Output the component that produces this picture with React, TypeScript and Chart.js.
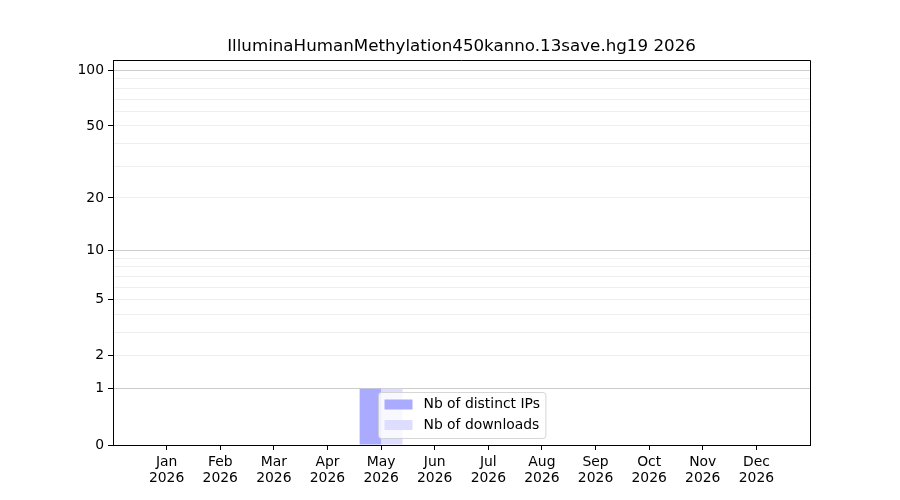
import React, { useEffect, useRef } from "react";
import { Chart, registerables } from "chart.js";

Chart.register(...registerables);

const TITLE = "IlluminaHumanMethylation450kanno.13save.hg19 2026";
const MONTHS = ["Jan", "Feb", "Mar", "Apr", "May", "Jun", "Jul", "Aug", "Sep", "Oct", "Nov", "Dec"];
const YEAR = "2026";
const DISTINCT_IPS = [0, 0, 0, 0, 1, 0, 0, 0, 0, 0, 0, 0];
const DOWNLOADS = [0, 0, 0, 0, 1, 0, 0, 0, 0, 0, 0, 0];
const Y_MAJOR_TICKS = [0, 1, 2, 5, 10, 20, 50, 100];
const Y_MINOR_GRID = [3, 4, 6, 7, 8, 9, 30, 40, 60, 70, 80, 90];
const Y_STRONG_GRID = [1, 10, 100];
const Y_MAX = 114;

const f = (v: number) => Math.log10(1 + v);
const inv = (t: number) => Math.pow(10, t) - 1;
const near = (a: number, b: number) => Math.abs(a - b) < 1e-6;
const FONT = "'DejaVu Sans', sans-serif";

const frameAndTitle = {
  id: "frameAndTitle",
  afterDraw(chart: any) {
    const { ctx, chartArea } = chart;
    ctx.save();
    ctx.strokeStyle = "#000";
    ctx.lineWidth = 1;
    ctx.beginPath();
    ctx.moveTo(chartArea.left, chartArea.top + 0.5);
    ctx.lineTo(chartArea.right + 0.5, chartArea.top + 0.5);
    ctx.lineTo(chartArea.right + 0.5, chartArea.bottom);
    ctx.stroke();
    ctx.fillStyle = "#000";
    ctx.font = `16.7px ${FONT}`;
    ctx.textAlign = "center";
    ctx.textBaseline = "middle";
    ctx.fillText(TITLE, (chartArea.left + chartArea.right) / 2, 46.5);
    ctx.restore();
  },
};

const innerLegend = {
  id: "innerLegend",
  afterDatasetsDraw(chart: any) {
    const { ctx } = chart;
    const ds = chart.data.datasets;
    ctx.save();
    ctx.font = `13.9px ${FONT}`;
    const textW = Math.max(...ds.map((d: any) => ctx.measureText(d.label).width));
    const x0 = 378.5;
    const y0 = 392.5;
    const w = 6 + 28 + 11 + textW + 6;
    const h = 46;
    const r = 3;
    ctx.beginPath();
    ctx.moveTo(x0 + r, y0);
    ctx.lineTo(x0 + w - r, y0);
    ctx.quadraticCurveTo(x0 + w, y0, x0 + w, y0 + r);
    ctx.lineTo(x0 + w, y0 + h - r);
    ctx.quadraticCurveTo(x0 + w, y0 + h, x0 + w - r, y0 + h);
    ctx.lineTo(x0 + r, y0 + h);
    ctx.quadraticCurveTo(x0, y0 + h, x0, y0 + h - r);
    ctx.lineTo(x0, y0 + r);
    ctx.quadraticCurveTo(x0, y0, x0 + r, y0);
    ctx.closePath();
    ctx.fillStyle = "rgba(255,255,255,0.8)";
    ctx.fill();
    ctx.strokeStyle = "rgba(204,204,204,0.8)";
    ctx.lineWidth = 1;
    ctx.stroke();
    ds.forEach((d: any, i: number) => {
      const cy = y0 + 12 + i * 20.5;
      ctx.fillStyle = d.backgroundColor;
      ctx.fillRect(x0 + 6, cy - 5, 28, 10);
      ctx.fillStyle = "#000";
      ctx.textAlign = "left";
      ctx.textBaseline = "middle";
      ctx.fillText(d.label, x0 + 45, cy);
    });
    ctx.restore();
  },
};

export default function App() {
  const ref = useRef<HTMLCanvasElement>(null);

  useEffect(() => {
    if (!ref.current) return;
    const chart = new Chart(ref.current, {
      type: "bar",
      data: {
        datasets: [
          {
            label: "Nb of distinct IPs",
            data: DISTINCT_IPS.map((v, i) => ({ x: i + 1, y: f(v) })),
            backgroundColor: "#aaaaff",
            borderWidth: 0,
            categoryPercentage: 0.8,
            barPercentage: 1.0,
          },
          {
            label: "Nb of downloads",
            data: DOWNLOADS.map((v, i) => ({ x: i + 1, y: f(v) })),
            backgroundColor: "#ddddff",
            borderWidth: 0,
            categoryPercentage: 0.8,
            barPercentage: 1.0,
          },
        ],
      },
      options: {
        animation: false,
        responsive: false,
        devicePixelRatio: 1,
        layout: { padding: { top: 60, right: 90, left: 0, bottom: 0 } },
        plugins: {
          legend: { display: false },
          title: { display: false },
          tooltip: { enabled: false },
        },
        scales: {
          x: {
            type: "linear",
            min: 0,
            max: MONTHS.length + 1,
            offset: false,
            afterBuildTicks: (scale: any) => {
              scale.ticks = MONTHS.map((_, i) => ({ value: i + 1 }));
            },
            afterFit: (scale: any) => {
              scale.height = 55;
            },
            ticks: {
              autoSkip: false,
              maxRotation: 0,
              padding: 4,
              color: "#000",
              font: { family: FONT, size: 13.9, lineHeight: 1.17 },
              callback: (v: any) => [MONTHS[Math.round(v) - 1], YEAR],
            },
            grid: {
              offset: false,
              drawOnChartArea: false,
              drawTicks: true,
              tickLength: 5,
              tickColor: "#000",
            },
            border: { color: "#000", width: 1 },
          },
          y: {
            type: "linear",
            min: 0,
            max: f(Y_MAX),
            afterBuildTicks: (scale: any) => {
              const all = [...Y_MAJOR_TICKS, ...Y_MINOR_GRID].sort((a, b) => a - b);
              scale.ticks = all.map((v) => ({ value: f(v) }));
            },
            afterFit: (scale: any) => {
              scale.width = 113;
            },
            ticks: {
              autoSkip: false,
              padding: 4,
              color: "#000",
              font: { family: FONT, size: 13.9 },
              callback: (t: any) => {
                const v = inv(t);
                const m = Y_MAJOR_TICKS.find((x) => Math.abs(x - v) < 1e-6 * Math.max(1, x));
                return m === undefined ? "" : String(m);
              },
            },
            grid: {
              drawTicks: true,
              tickLength: 5,
              color: (c: any) => {
                const v = inv(c.tick.value);
                if (near(v, 0)) return "rgba(0,0,0,0)";
                if (Y_STRONG_GRID.some((x) => Math.abs(x - v) < 1e-6 * x)) return "#cccccc";
                return "#eeeeee";
              },
              tickColor: (c: any) => {
                const v = inv(c.tick.value);
                return Y_MAJOR_TICKS.some((x) => Math.abs(x - v) < 1e-6 * Math.max(1, x)) ? "#000" : "rgba(0,0,0,0)";
              },
            },
            border: { color: "#000", width: 1 },
          },
        },
      },
      plugins: [frameAndTitle, innerLegend],
    } as any);
    return () => chart.destroy();
  }, []);

  return (
    <div style={{ position: "fixed", left: 0, top: 0, width: 900, height: 500, background: "#fff" }}>
      <canvas ref={ref} width={900} height={500} />
    </div>
  );
}
